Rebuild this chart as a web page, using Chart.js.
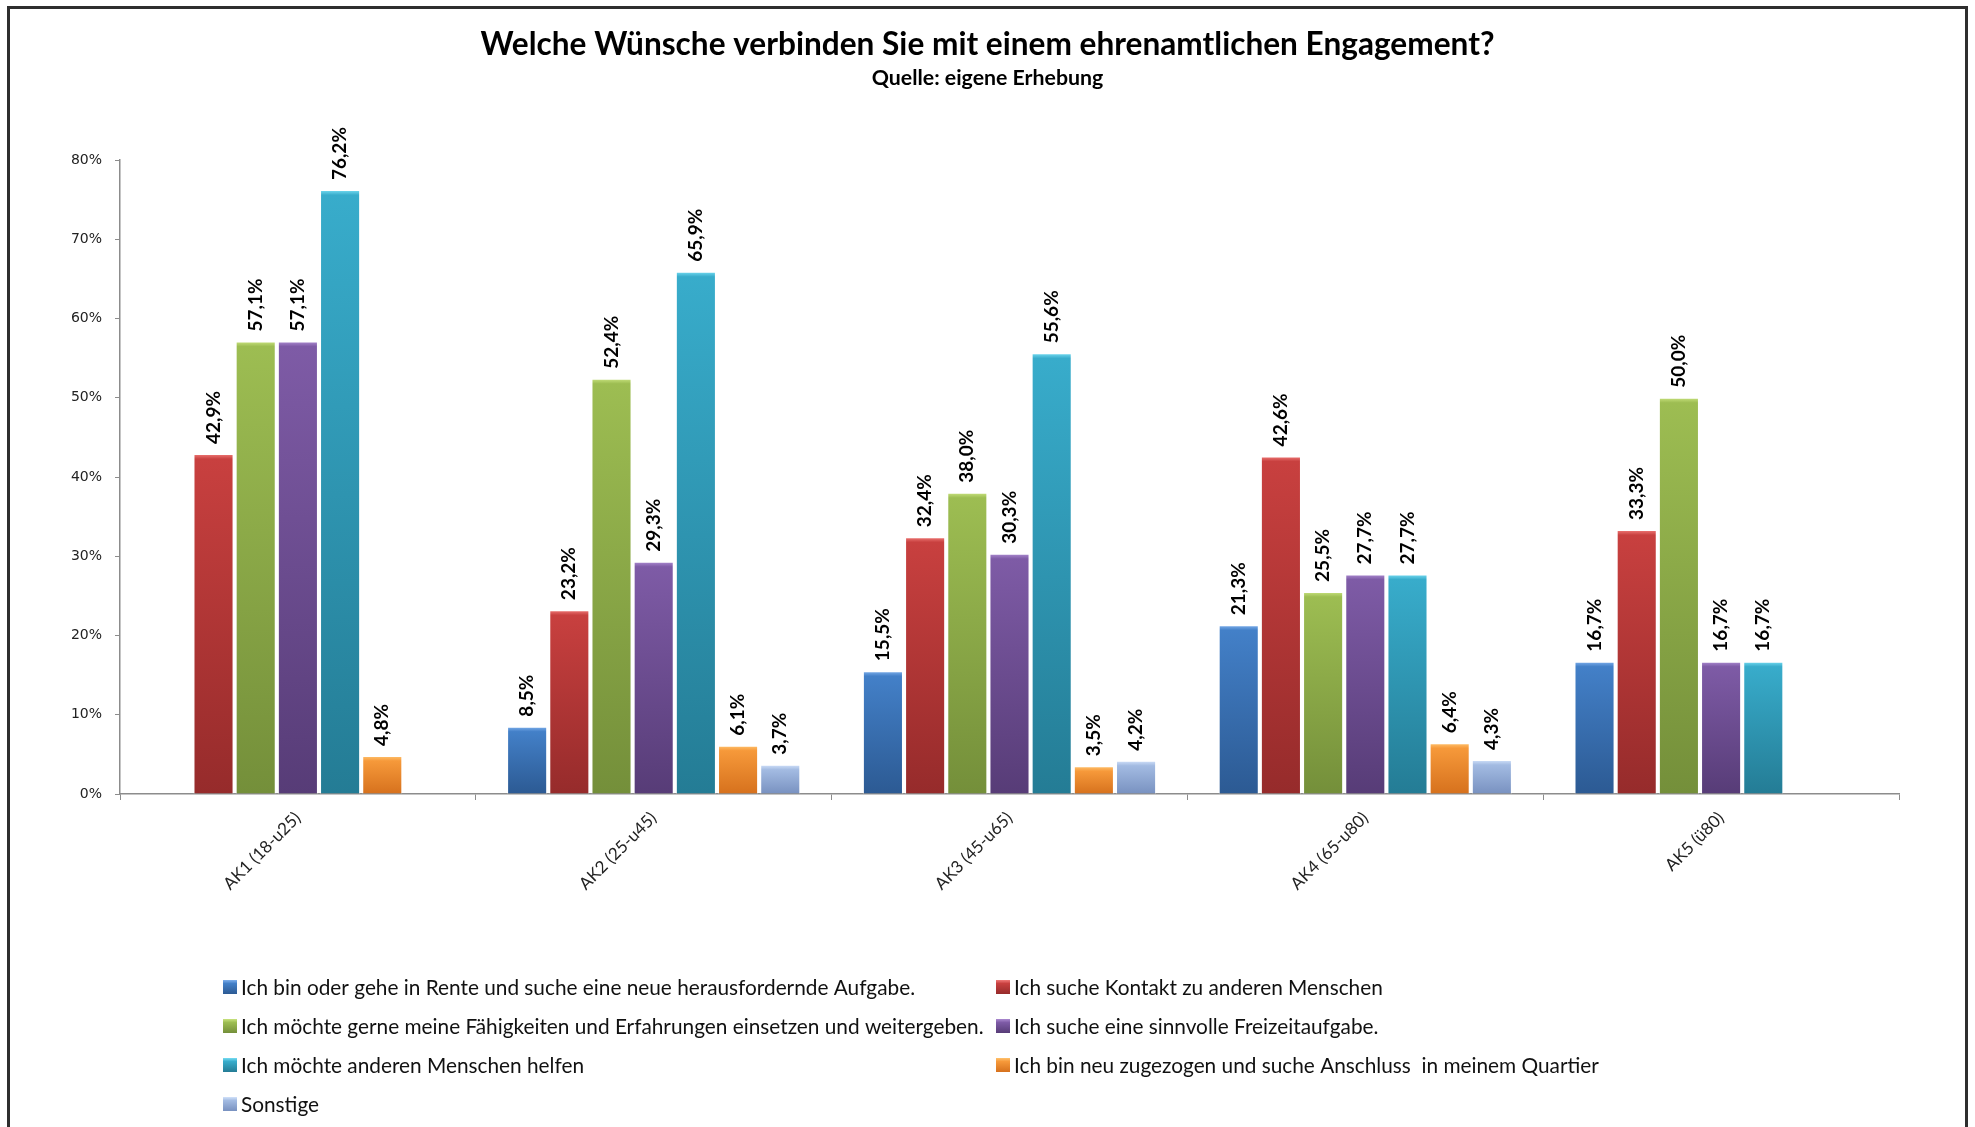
<!DOCTYPE html>
<html lang="de">
<head>
<meta charset="utf-8">
<title>Wünsche ehrenamtliches Engagement</title>
<script src="https://cdn.jsdelivr.net/npm/chart.js@4.4.1/dist/chart.umd.min.js"></script>
<style>
  html, body { margin: 0; padding: 0; background: #fff; }
  #wrap { position: relative; width: 1975px; height: 1127px; overflow: hidden; }
  #frame {
    position: absolute; left: 7px; top: 6px; width: 1955px; height: 1200px;
    border: 3px solid #2e2e2e; border-bottom: none; box-sizing: content-box;
  }
  canvas { position: absolute; left: 0; top: 0; }
</style>
</head>
<body>
<div id="wrap">
  <div id="frame"></div>
  <canvas id="chart" width="1975" height="1127"></canvas>
</div>
<script>
// --- Daten ---
const chartTitle = 'Welche Wünsche verbinden Sie mit einem ehrenamtlichen Engagement?';
const chartSubtitle = 'Quelle: eigene Erhebung';

const categories = ['AK1 (18-u25)', 'AK2 (25-u45)', 'AK3 (45-u65)', 'AK4 (65-u80)', 'AK5 (ü80)'];

const seriesLabels = [
    'Ich bin oder gehe in Rente und suche eine neue herausfordernde Aufgabe.',
    'Ich suche Kontakt zu anderen Menschen',
    'Ich möchte gerne meine Fähigkeiten und Erfahrungen einsetzen und weitergeben.',
    'Ich suche eine sinnvolle Freizeitaufgabe.',
    'Ich möchte anderen Menschen helfen',
    'Ich bin neu zugezogen und suche Anschluss  in meinem Quartier',
    'Sonstige'
];

const renteValues      = [null, 8.5, 15.5, 21.3, 16.7];
const kontaktValues    = [42.9, 23.2, 32.4, 42.6, 33.3];
const faehigkeitValues = [57.1, 52.4, 38.0, 25.5, 50.0];
const freizeitValues   = [57.1, 29.3, 30.3, 27.7, 16.7];
const helfenValues     = [76.2, 65.9, 55.6, 27.7, 16.7];
const zugezogenValues  = [4.8, 6.1, 3.5, 6.4, null];
const sonstigeValues   = [null, 3.7, 4.2, 4.3, null];

const yTicks = [0, 10, 20, 30, 40, 50, 60, 70, 80];

// Glanzkante / helle / dunkle Farbe je Reihe (Verlauf)
const edgeColors   = ['#7fb0ec', '#f07a78', '#c8e27e', '#ab8ad0', '#76dcf2', '#ffc26e', '#d2e2fa'];
const topColors    = ['#4380c8', '#c8403f', '#9dbd52', '#7e5ba6', '#38accb', '#f6993a', '#a3bbe2'];
const bottomColors = ['#2c5a93', '#962b2b', '#748f3a', '#573c77', '#247c95', '#d6711d', '#7891c0'];

const allValues = [renteValues, kontaktValues, faehigkeitValues, freizeitValues,
                   helfenValues, zugezogenValues, sonstigeValues];

const FONT = "Lato, 'Open Sans', sans-serif";

function formatPercent(v) {
    return v.toFixed(1).replace('.', ',') + '%';
}

// Verlauf pro Balken, über die y-Skala berechnet
function barGradient(i) {
    return function(context) {
        const chart = context.chart;
        const y = chart.scales && chart.scales.y;
        const v = context.raw;
        if (!y || v == null || context.type !== 'data') return topColors[i];
        const top = y.getPixelForValue(v);
        const base = y.getPixelForValue(0);
        if (!isFinite(top) || !isFinite(base) || top === base) return topColors[i];
        const edge = Math.min(5 / (base - top), 0.5);
        const g = chart.ctx.createLinearGradient(0, top, 0, base);
        g.addColorStop(0, edgeColors[i]);
        g.addColorStop(edge, topColors[i]);
        g.addColorStop(1, bottomColors[i]);
        return g;
    };
}

// Titel + Untertitel, über der ganzen Seite zentriert
const centeredTitle = {
    id: 'centeredTitle',
    afterDraw(chart) {
        const ctx = chart.ctx;
        const cx = chart.width / 2;
        ctx.save();
        ctx.fillStyle = '#000';
        ctx.textAlign = 'center';
        ctx.textBaseline = 'middle';
        ctx.font = 'bold 31.6px ' + FONT;
        ctx.fillText(chartTitle, cx, 45);
        ctx.font = 'bold 21.3px ' + FONT;
        ctx.fillText(chartSubtitle, cx, 78);
        ctx.restore();
    }
};

// Datenbeschriftungen, um 90° gedreht
const valueLabels = {
    id: 'valueLabels',
    afterDatasetsDraw(chart) {
        const ctx = chart.ctx;
        chart.data.datasets.forEach((ds, i) => {
            const meta = chart.getDatasetMeta(i);
            meta.data.forEach((bar, j) => {
                const v = ds.data[j];
                if (v == null) return;
                ctx.save();
                ctx.translate(bar.x, bar.y - 10);
                ctx.rotate(-Math.PI / 2);
                ctx.font = 'bold 19px ' + FONT;
                ctx.fillStyle = '#000';
                ctx.textAlign = 'left';
                ctx.textBaseline = 'middle';
                ctx.fillText(formatPercent(v), 0, 0);
                ctx.restore();
            });
        });
    }
};

// Legende in zwei Spalten unter dem Diagramm
const twoColumnLegend = {
    id: 'twoColumnLegend',
    afterDraw(chart) {
        const ctx = chart.ctx;
        const colX = [223, 996];
        const rowY0 = 987, rowGap = 39, box = 14;
        ctx.save();
        ctx.font = '20.8px ' + FONT;
        ctx.textBaseline = 'middle';
        ctx.textAlign = 'left';
        chart.data.datasets.forEach((ds, i) => {
            const x = colX[i % 2];
            const y = rowY0 + Math.floor(i / 2) * rowGap;
            const g = ctx.createLinearGradient(0, y - box / 2, 0, y + box / 2);
            g.addColorStop(0, edgeColors[i]);
            g.addColorStop(0.25, topColors[i]);
            g.addColorStop(1, bottomColors[i]);
            ctx.fillStyle = g;
            ctx.fillRect(x, y - box / 2, box, box);
            ctx.fillStyle = '#111';
            ctx.fillText(ds.label, x + box + 4, y + 1);
        });
        ctx.restore();
    }
};

const datasets = allValues.map((vals, i) => ({
    label: seriesLabels[i],
    data: vals,
    backgroundColor: barGradient(i),
    borderColor: '#ffffff',
    borderWidth: 1,
    categoryPercentage: 0.83,
    barPercentage: 0.95
}));

new Chart(document.getElementById('chart'), {
    type: 'bar',
    data: { labels: categories, datasets: datasets },
    options: {
        responsive: false,
        animation: false,
        layout: { padding: { left: 10, right: 76, top: 160, bottom: 200 } },
        plugins: {
            legend: { display: false },
            tooltip: { enabled: false },
            title: { display: false },
            subtitle: { display: false }
        },
        scales: {
            x: {
                offset: true,
                grid: { display: true, drawOnChartArea: false, offset: true, tickLength: 6, color: '#8c8c8c' },
                border: { color: '#8c8c8c', width: 1.5 },
                ticks: {
                    color: '#222',
                    font: { family: FONT, size: 17 },
                    maxRotation: 45, minRotation: 45,
                    padding: 8
                },
                afterFit(scale) { scale.height = 133; }
            },
            y: {
                min: 0, max: 80,
                afterBuildTicks(scale) { scale.ticks = yTicks.map(v => ({ value: v })); },
                grid: { display: true, drawOnChartArea: false, tickLength: 5, color: '#8c8c8c' },
                border: { color: '#8c8c8c', width: 1.5 },
                ticks: {
                    color: '#222',
                    font: { family: "'DejaVu Sans', Verdana, sans-serif", size: 14 },
                    padding: 13,
                    callback: v => v + '%'
                },
                afterFit(scale) { scale.width = 110; }
            }
        }
    },
    plugins: [centeredTitle, valueLabels, twoColumnLegend]
});
</script>
</body>
</html>
